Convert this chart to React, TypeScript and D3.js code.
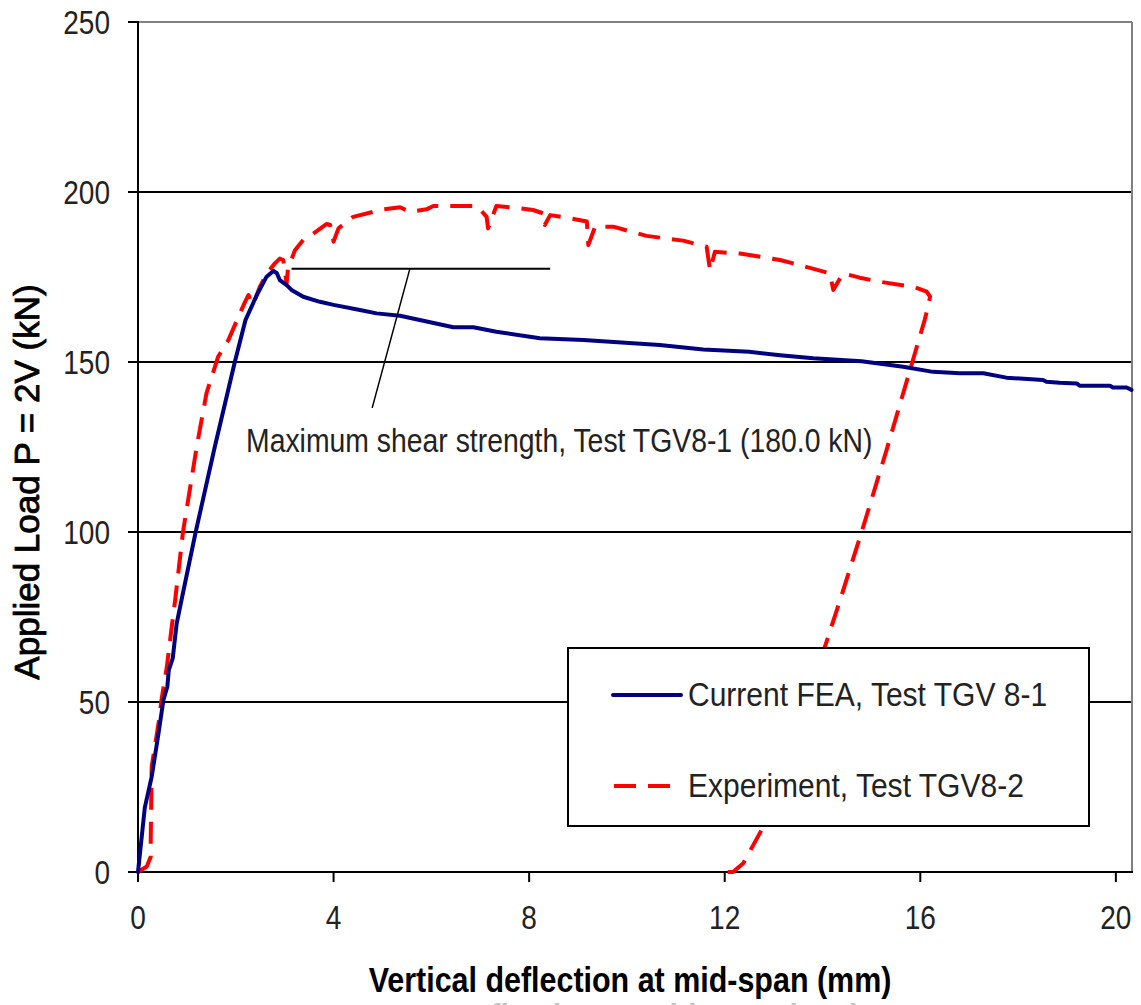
import React, { useEffect, useRef } from "react";
import * as d3 from "d3";

const feaSeries: [number, number][] = [
  [0, 0], [0.14, 19], [0.28, 28], [0.42, 40.8], [0.52, 50.6], [0.6, 54.5], [0.63, 59.4],
  [0.71, 62.8], [0.79, 73], [0.89, 80], [1.18, 100], [1.57, 125], [1.98, 150], [2.2, 162.4],
  [2.43, 169.7], [2.63, 175.1], [2.77, 176.8], [2.84, 176.1], [2.9, 174.1], [3.04, 172.6],
  [3.14, 171.2], [3.38, 169.2], [3.72, 167.7], [4.0, 166.8], [4.54, 165.3], [4.88, 164.3],
  [5.36, 163.6], [6.45, 160.2], [6.86, 160.2], [7.33, 158.9], [8.22, 157], [9.11, 156.5],
  [10.67, 155], [11.56, 153.7], [12.5, 153], [13.13, 152], [13.81, 151.1], [14.8, 150.2],
  [15.65, 148.6], [16.26, 147.1], [16.81, 146.7], [17.29, 146.7], [17.76, 145.4],
  [18.51, 144.7], [18.58, 144.2], [18.85, 143.9], [19.2, 143.7], [19.26, 143.0],
  [19.88, 143], [19.94, 142.5], [20.22, 142.5], [20.32, 141.8],
];

const experimentSeries: [number, number][] = [
  [0, 0], [0.18, 1.6], [0.26, 4.5], [0.26, 9.4], [0.28, 31], [0.42, 43.7], [0.48, 50.6],
  [0.59, 60.4], [0.69, 72.1], [0.76, 80], [0.92, 100], [1.2, 125], [1.4, 140.8],
  [1.64, 151.6], [1.85, 156.5], [2.09, 164.5], [2.19, 167.7], [2.26, 169.7], [2.33, 166.8],
  [2.39, 168.2], [2.49, 172.1], [2.66, 176.6], [2.8, 179], [2.9, 180.4], [2.97, 180],
  [3.04, 173.1], [3.07, 178], [3.11, 179], [3.21, 182.9], [3.38, 185.9], [3.55, 187.4],
  [3.86, 190.6], [3.93, 190.3], [4.0, 185.4], [4.1, 189.3], [4.4, 192.7], [5.01, 194.9],
  [5.36, 195.5], [5.56, 194.2], [5.9, 194.9], [6.04, 195.9], [6.93, 195.9], [7.13, 192.7],
  [7.16, 189.3], [7.33, 195.9], [7.81, 195.2], [8.08, 194.7], [8.29, 193.7], [8.32, 190.3],
  [8.43, 193.2], [8.83, 192.3], [9.18, 191.3], [9.21, 184.4], [9.35, 189.8], [9.72, 189.8],
  [10.4, 187.1], [11.15, 185.7], [11.63, 183.9], [11.7, 177], [11.8, 182.4], [12.31, 181.9],
  [13.13, 180], [13.4, 179], [14.15, 176.1], [14.22, 171.2], [14.42, 176.1], [14.76, 174.8],
  [15.17, 173.6], [15.89, 172], [16.13, 170.7], [16.2, 169.2], [16.16, 166.3], [16.09, 162.4],
  [15.85, 150.6], [15.65, 140.8], [15.31, 124.1], [14.8, 100], [14.36, 80], [14.05, 66.3],
  [12.79, 13.3], [12.38, 2.6], [12.17, 0], [12.0, 0],
];

const xTicks = [0, 4, 8, 12, 16, 20];
const yTicks = [0, 50, 100, 150, 200, 250];
const seriesNames = ["Current FEA, Test TGV 8-1", "Experiment, Test TGV8-2"];
const annotationText = "Maximum shear strength, Test TGV8-1 (180.0 kN)";
const annotationLevel = 177.4;
const xTitle = "Vertical deflection at mid-span (mm)";
const ghostTitle = "Deflection at mid-span (mm)";
const yTitle = "Applied Load P = 2V (kN)";

const FONT = "'Liberation Sans', Arial, Helvetica, sans-serif";

export default function App() {
  const ref = useRef<SVGSVGElement | null>(null);

  useEffect(() => {
    const svg = d3.select(ref.current);
    svg.selectAll("*").remove();

    const x = d3.scaleLinear().domain([0, 20.33]).range([138, 1132]);
    const y = d3.scaleLinear().domain([0, 250]).range([872, 22]);
    const [x0, x1] = x.range();
    const [yb, yt] = y.range();

    svg.append("rect").attr("width", 1141).attr("height", 1005).attr("fill", "#fff");

    // gridlines
    yTicks.filter((t) => t > 0 && t < 250).forEach((t) => {
      svg.append("line").attr("x1", x0).attr("x2", x1).attr("y1", y(t)).attr("y2", y(t))
        .attr("stroke", "#000").attr("stroke-width", 2);
    });
    // top and right border (gray)
    svg.append("line").attr("x1", x0).attr("x2", x1).attr("y1", yt).attr("y2", yt)
      .attr("stroke", "#808080").attr("stroke-width", 2);
    svg.append("line").attr("x1", x1).attr("x2", x1).attr("y1", yt).attr("y2", yb)
      .attr("stroke", "#808080").attr("stroke-width", 2);

    // axes
    svg.append("line").attr("x1", x0).attr("x2", x0).attr("y1", yt - 1).attr("y2", yb + 1)
      .attr("stroke", "#000").attr("stroke-width", 2);
    svg.append("line").attr("x1", x0 - 1).attr("x2", x1 + 1).attr("y1", yb).attr("y2", yb)
      .attr("stroke", "#000").attr("stroke-width", 2);

    yTicks.forEach((t) => {
      svg.append("line").attr("x1", x0 - 10).attr("x2", x0).attr("y1", y(t)).attr("y2", y(t))
        .attr("stroke", "#000").attr("stroke-width", 2);
      svg.append("text")
        .attr("transform", `translate(${110},${y(t) + 12}) scale(0.85,1)`)
        .attr("text-anchor", "end").attr("font-family", FONT).attr("font-size", 33)
        .attr("fill", "#222").text(String(t));
    });
    xTicks.forEach((t) => {
      svg.append("line").attr("x1", x(t)).attr("x2", x(t)).attr("y1", yb).attr("y2", yb + 10)
        .attr("stroke", "#000").attr("stroke-width", 2);
      svg.append("text")
        .attr("transform", `translate(${x(t)},${929}) scale(0.85,1)`)
        .attr("text-anchor", "middle").attr("font-family", FONT).attr("font-size", 33)
        .attr("fill", "#222").text(String(t));
    });

    const line = d3.line<[number, number]>().x((d) => x(d[0])).y((d) => y(d[1]));

    svg.append("path").attr("d", line(experimentSeries) || "").attr("fill", "none")
      .attr("stroke", "#ff0000").attr("stroke-width", 4)
      .attr("stroke-dasharray", "22 12").attr("stroke-linejoin", "round");

    svg.append("path").attr("d", line(feaSeries) || "").attr("fill", "none")
      .attr("stroke", "#000080").attr("stroke-width", 4).attr("stroke-linejoin", "round")
      .attr("stroke-linecap", "round");

    // annotation
    svg.append("line").attr("x1", x(3.14)).attr("x2", x(8.43))
      .attr("y1", y(annotationLevel)).attr("y2", y(annotationLevel))
      .attr("stroke", "#000").attr("stroke-width", 2);
    svg.append("line").attr("x1", x(5.56)).attr("x2", x(4.79))
      .attr("y1", y(annotationLevel)).attr("y2", y(136.5))
      .attr("stroke", "#000").attr("stroke-width", 1.5);
    svg.append("text")
      .attr("transform", `translate(${246},${452}) scale(0.86,1)`)
      .attr("font-family", FONT).attr("font-size", 33).attr("fill", "#222")
      .text(annotationText);

    // legend
    const lg = svg.append("g");
    lg.append("rect").attr("x", 568).attr("y", 648).attr("width", 521).attr("height", 178)
      .attr("fill", "#fff").attr("stroke", "#000").attr("stroke-width", 2);
    lg.append("line").attr("x1", 613).attr("x2", 681).attr("y1", 695).attr("y2", 695)
      .attr("stroke", "#000080").attr("stroke-width", 4).attr("stroke-linecap", "round");
    lg.append("line").attr("x1", 614).attr("x2", 670).attr("y1", 786).attr("y2", 786)
      .attr("stroke", "#ff0000").attr("stroke-width", 4).attr("stroke-dasharray", "22 12");
    seriesNames.forEach((n, i) => {
      lg.append("text")
        .attr("transform", `translate(${688},${i === 0 ? 706 : 797}) scale(0.91,1)`)
        .attr("font-family", FONT).attr("font-size", 33).attr("fill", "#222").text(n);
    });

    // axis titles (ghost copy drawn first, partly off the page as in the original)
    svg.append("text")
      .attr("transform", `translate(${656},${1029}) scale(0.87,1)`)
      .attr("text-anchor", "middle").attr("font-family", FONT).attr("font-weight", "bold")
      .attr("font-size", 35).attr("fill", "#c4c4c4").text(ghostTitle);
    svg.append("text")
      .attr("transform", `translate(${630},${992}) scale(0.87,1)`)
      .attr("text-anchor", "middle").attr("font-family", FONT).attr("font-weight", "bold")
      .attr("font-size", 35).attr("fill", "#000").text(xTitle);
    svg.append("text")
      .attr("transform", `translate(${39},${482}) rotate(-90)`)
      .attr("text-anchor", "middle").attr("font-family", FONT)
      .attr("font-size", 35).attr("fill", "#000").attr("stroke", "#000").attr("stroke-width", 0.8)
      .text(yTitle);
  }, []);

  return (
    <div style={{ position: "absolute", left: 0, top: 0 }}>
      <svg ref={ref} width={1141} height={1005} style={{ display: "block" }} />
    </div>
  );
}
